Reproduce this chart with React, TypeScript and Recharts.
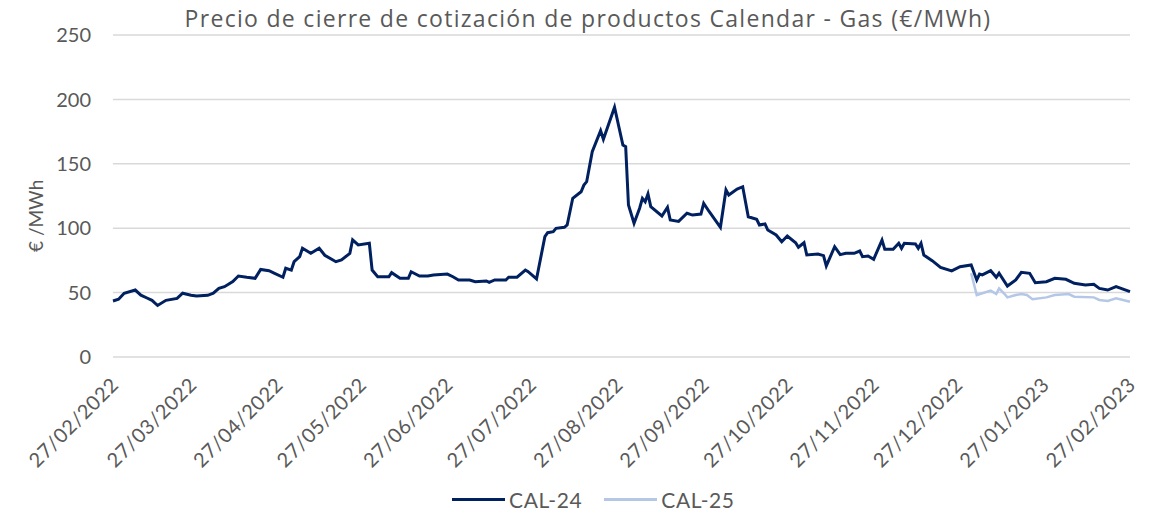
import { CartesianGrid, Label, Line, LineChart, XAxis, YAxis } from 'recharts';

const FONT = 'Lato, "Noto Sans", sans-serif';
const TEXT = '#595959';
const NAVY = '#002060';
const LIGHT = '#b4c7e7';

// CAL-24 closing prices (€/MWh)
const DATES_24 = [
  '2022-02-27', '2022-03-01', '2022-03-03', '2022-03-07', '2022-03-09', '2022-03-11', '2022-03-13', '2022-03-15',
  '2022-03-18', '2022-03-22', '2022-03-24', '2022-03-27', '2022-03-29', '2022-04-02', '2022-04-04', '2022-04-06',
  '2022-04-08', '2022-04-11', '2022-04-13', '2022-04-16', '2022-04-19', '2022-04-21', '2022-04-24', '2022-04-26',
  '2022-04-29', '2022-04-30', '2022-05-02', '2022-05-03', '2022-05-05', '2022-05-06', '2022-05-09', '2022-05-12',
  '2022-05-14', '2022-05-18', '2022-05-20', '2022-05-23', '2022-05-24', '2022-05-26', '2022-05-30', '2022-05-31',
  '2022-06-02', '2022-06-06', '2022-06-07', '2022-06-10', '2022-06-13', '2022-06-14', '2022-06-17', '2022-06-20',
  '2022-06-22', '2022-06-27', '2022-06-29', '2022-07-01', '2022-07-05', '2022-07-07', '2022-07-11', '2022-07-12',
  '2022-07-14', '2022-07-18', '2022-07-19', '2022-07-22', '2022-07-25', '2022-07-26', '2022-07-29', '2022-08-01',
  '2022-08-02', '2022-08-04', '2022-08-05', '2022-08-08', '2022-08-09', '2022-08-11', '2022-08-14', '2022-08-15',
  '2022-08-16', '2022-08-18', '2022-08-21', '2022-08-22', '2022-08-26', '2022-08-29', '2022-08-30', '2022-08-31',
  '2022-09-02', '2022-09-04', '2022-09-05', '2022-09-06', '2022-09-07', '2022-09-08', '2022-09-12', '2022-09-14',
  '2022-09-15', '2022-09-18', '2022-09-21', '2022-09-23', '2022-09-26', '2022-09-27', '2022-09-29', '2022-10-03',
  '2022-10-05', '2022-10-06', '2022-10-09', '2022-10-11', '2022-10-13', '2022-10-16', '2022-10-17', '2022-10-19',
  '2022-10-20', '2022-10-23', '2022-10-25', '2022-10-27', '2022-10-30', '2022-10-31', '2022-11-02', '2022-11-03',
  '2022-11-07', '2022-11-09', '2022-11-10', '2022-11-13', '2022-11-15', '2022-11-17', '2022-11-20', '2022-11-22',
  '2022-11-23', '2022-11-25', '2022-11-27', '2022-11-30', '2022-12-01', '2022-12-04', '2022-12-06', '2022-12-07',
  '2022-12-08', '2022-12-12', '2022-12-13', '2022-12-14', '2022-12-15', '2022-12-18', '2022-12-21', '2022-12-25',
  '2022-12-28', '2023-01-01', '2023-01-03', '2023-01-04', '2023-01-05', '2023-01-08', '2023-01-10', '2023-01-11',
  '2023-01-14', '2023-01-17', '2023-01-19', '2023-01-22', '2023-01-24', '2023-01-28', '2023-01-31', '2023-02-04',
  '2023-02-07', '2023-02-11', '2023-02-14', '2023-02-16', '2023-02-19', '2023-02-22', '2023-02-27',
];
const CAL_24 = [
  43.5, 44.8, 49.5, 52, 48, 46, 44, 40,
  44, 45.5, 49.5, 48, 47.4, 47.9, 49.5, 53.3,
  54.6, 58.5, 62.9, 61.9, 61.1, 68, 67, 65,
  61.9, 68.9, 67.5, 74, 77.9, 84.4, 80.5, 84.4,
  79, 74, 75.3, 80.5, 91, 87, 88.3, 67.5,
  62.3, 62.3, 65.5, 61.1, 61.1, 66.2, 62.9, 62.9,
  63.7, 64.4, 62.3, 59.8, 59.8, 58.5, 59, 58,
  59.8, 59.8, 61.9, 62, 67.5, 66.2, 60.6, 93.4,
  96.5, 97.3, 99.9, 100.7, 102.5, 123.2, 128.3, 133.5,
  136.1, 159.4, 175.7, 169, 193.9, 164.6, 163.3, 118,
  103.8, 115.5, 123.2, 120.6, 126.6, 116.7, 109.5, 116.2,
  106.4, 105.3, 111.6, 110.2, 111, 119.3, 112.8, 100.7,
  129.7, 125.8, 130.4, 132.2, 108.9, 106.9, 102.5, 103.3,
  98.6, 94.7, 89.5, 93.9, 88.7, 85.2, 88.7, 79.2,
  80, 78.7, 70.7, 85.6, 79.5, 80.5, 80.5, 82.3,
  77.9, 78.4, 75.9, 90.8, 83.6, 83.6, 88.3, 84.4,
  88.3, 87.7, 84.4, 88.3, 79.2, 74.8, 69.5, 66.8,
  70.1, 71.4, 59.8, 64.4, 63.7, 67, 61.9, 65,
  55.1, 59.8, 65.8, 65, 57.7, 58.5, 61.1, 60.3,
  57.2, 55.9, 56.4, 53.3, 52, 54.6, 50.7,
];

// CAL-25 closing prices (€/MWh), quoted from January 2023
const DATES_25 = [
  '2023-01-01', '2023-01-03', '2023-01-05', '2023-01-08', '2023-01-10', '2023-01-11', '2023-01-13', '2023-01-14',
  '2023-01-17', '2023-01-19', '2023-01-21', '2023-01-23', '2023-01-28', '2023-01-31', '2023-02-05', '2023-02-07',
  '2023-02-14', '2023-02-16', '2023-02-19', '2023-02-22', '2023-02-27',
];
const CAL_25 = [
  65, 48.1, 49.5, 51.5, 48.9, 53.3, 48.9, 46.3,
  48.1, 48.9, 48.1, 44.8, 46.3, 48.1, 48.9, 46.8,
  46.3, 44.3, 43.5, 45.6, 42.9,
];

const TICK_LABELS = [
  '27/02/2022', '27/03/2022', '27/04/2022', '27/05/2022', '27/06/2022', '27/07/2022', '27/08/2022',
  '27/09/2022', '27/10/2022', '27/11/2022', '27/12/2022', '27/01/2023', '27/02/2023',
];
const Y_TICKS = [0, 50, 100, 150, 200, 250];

const toTime = (d: string) => Date.parse(d + 'T00:00:00Z');
const labelToTime = (l: string) => {
  const [dd, mm, yyyy] = l.split('/');
  return toTime(`${yyyy}-${mm}-${dd}`);
};
const timeToLabel = (t: number) => {
  const d = new Date(t);
  const p = (n: number) => String(n).padStart(2, '0');
  return `${p(d.getUTCDate())}/${p(d.getUTCMonth() + 1)}/${d.getUTCFullYear()}`;
};

const rows = new Map<number, { t: number; cal24?: number; cal25?: number }>();
DATES_24.forEach((d, i) => {
  const t = toTime(d);
  rows.set(t, { ...(rows.get(t) ?? { t }), cal24: CAL_24[i] });
});
DATES_25.forEach((d, i) => {
  const t = toTime(d);
  rows.set(t, { ...(rows.get(t) ?? { t }), cal25: CAL_25[i] });
});
const data = [...rows.values()].sort((a, b) => a.t - b.t);

const xTicks = TICK_LABELS.map(labelToTime);

function DateTick({ x, y, payload }: any) {
  return (
    <g transform={`translate(${x + 7},${y + 21})`}>
      <text transform="rotate(-45)" textAnchor="end" fill={TEXT} fontSize={20} fontFamily={FONT} letterSpacing={0.6}>
        {timeToLabel(payload.value)}
      </text>
    </g>
  );
}

function LegendItem({ color, label }: { color: string; label: string }) {
  return (
    <div style={{ display: 'flex', alignItems: 'center', gap: 4 }}>
      <div style={{ width: 53, height: 3, background: color }} />
      <span style={{ fontSize: 21, color: TEXT, letterSpacing: 0.6 }}>{label}</span>
    </div>
  );
}

export default function App() {
  return (
    <div style={{ position: 'absolute', left: 0, top: 0, width: 1151, height: 514, background: '#fff', fontFamily: FONT }}>
      <div
        style={{
          position: 'absolute', top: 2, left: 0, width: 1176, textAlign: 'center',
          fontSize: 23, color: TEXT, fontFamily: '"Open Sans", Lato, sans-serif', letterSpacing: 1.3,
        }}
      >
        Precio de cierre de cotización de productos Calendar - Gas (€/MWh)
      </div>
      <LineChart width={1151} height={514} data={data} margin={{ top: 35, right: 21, bottom: 0, left: 0 }}>
        <CartesianGrid vertical={false} stroke="#d9d9d9" strokeWidth={1.5} />
        <XAxis
          dataKey="t"
          type="number"
          scale="time"
          domain={[xTicks[0], xTicks[xTicks.length - 1]]}
          ticks={xTicks}
          tick={<DateTick />}
          tickLine={false}
          axisLine={false}
          height={157}
          interval={0}
        />
        <YAxis
          domain={[0, 250]}
          ticks={Y_TICKS}
          tick={{ fill: TEXT, fontSize: 20, fontFamily: FONT }}
          tickLine={false}
          axisLine={false}
          width={113}
          dx={-14}
        >
          <Label value="€ /MWh" angle={-90} position="insideLeft" offset={36} dy={56} fill={TEXT} fontSize={19} fontFamily={FONT} />
        </YAxis>
        <Line dataKey="cal25" stroke={LIGHT} strokeWidth={2.5} dot={false} connectNulls isAnimationActive={false} />
        <Line dataKey="cal24" stroke={NAVY} strokeWidth={3} dot={false} connectNulls isAnimationActive={false} />
      </LineChart>
      <div style={{ position: 'absolute', top: 487, left: 452, display: 'flex', gap: 22 }}>
        <LegendItem color={NAVY} label="CAL-24" />
        <LegendItem color={LIGHT} label="CAL-25" />
      </div>
    </div>
  );
}
